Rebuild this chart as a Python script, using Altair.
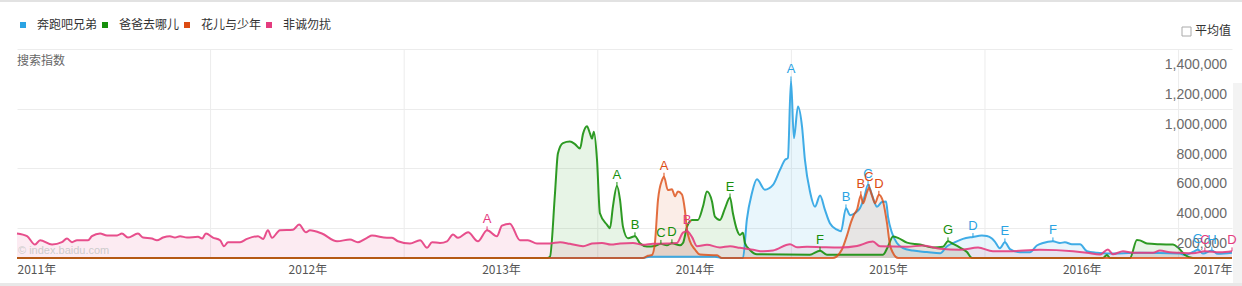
import altair as alt
import pandas as pd

SERIES = ["奔跑吧兄弟", "爸爸去哪儿", "花儿与少年", "非诚勿扰"]
COLORS = ["#2ba3e3", "#178f0c", "#dc4b12", "#e43c7f"]

# (decimal year, search index)
pink = [(2011.000,164000),(2011.052,146000),(2011.093,90000),(2011.119,119000),(2011.181,90000),(2011.232,106000),(2011.258,130000),(2011.284,106000),(2011.310,119000),(2011.367,119000),(2011.387,146000),(2011.429,164000),(2011.465,151000),(2011.517,151000),(2011.542,164000),(2011.573,137000),(2011.625,164000),(2011.651,137000),(2011.697,130000),(2011.723,119000),(2011.754,137000),(2011.790,146000),(2011.816,137000),(2011.842,146000),(2011.878,137000),(2011.935,142000),(2011.956,130000),(2011.976,164000),(2012.012,137000),(2012.049,119000),(2012.069,79000),(2012.090,106000),(2012.152,106000),(2012.188,128000),(2012.245,146000),(2012.271,128000),(2012.296,186000),(2012.317,135000),(2012.358,186000),(2012.426,190000),(2012.457,224000),(2012.493,172000),(2012.513,186000),(2012.575,164000),(2012.653,112000),(2012.720,124000),(2012.761,106000),(2012.808,135000),(2012.834,150000),(2012.911,135000),(2012.937,135000),(2012.968,112000),(2013.030,97000),(2013.082,119000),(2013.118,68000),(2013.144,106000),(2013.185,101000),(2013.221,112000),(2013.252,157000),(2013.278,135000),(2013.330,172000),(2013.381,112000),(2013.428,186000),(2013.479,146000),(2013.505,217000),(2013.546,230000),(2013.598,119000),(2013.639,119000),(2013.686,97000),(2013.753,97000),(2013.805,106000),(2013.856,95000),(2013.924,79000),(2013.970,97000),(2014.022,101000),(2014.068,90000),(2014.115,97000),(2014.182,101000),(2014.233,88000),(2014.285,95000),(2014.357,97000),(2014.409,101000),(2014.440,170000),(2014.461,179000),(2014.487,140000),(2014.512,79000),(2014.564,88000),(2014.631,71000),(2014.683,79000),(2014.734,68000),(2014.802,55000),(2014.853,45000),(2014.905,50000),(2014.993,92000),(2015.029,72000),(2015.081,75000),(2015.163,72000),(2015.251,70000),(2015.339,80000),(2015.421,110000),(2015.458,78000),(2015.597,75000),(2015.680,84000),(2015.768,62000),(2015.871,55000),(2015.964,70000),(2016.041,45000),(2016.114,45000),(2016.284,55000),(2016.455,45000),(2016.527,35000),(2016.594,23000),(2016.635,57000),(2016.661,25000),(2016.713,45000),(2016.764,35000),(2016.868,35000),(2016.904,50000),(2016.955,38000),(2017.007,35000),(2017.074,32000),(2017.136,45000),(2017.214,38000),(2017.276,45000)]

green = [(2011.000,0),(2013.740,0),(2013.753,8000),(2013.779,435000),(2013.794,700000),(2013.820,770000),(2013.856,780000),(2013.882,763000),(2013.908,733000),(2013.924,833000),(2013.944,883000),(2013.960,833000),(2013.970,800000),(2013.980,845000),(2013.996,658000),(2014.011,300000),(2014.047,224000),(2014.063,200000),(2014.078,343000),(2014.099,483000),(2014.115,390000),(2014.130,210000),(2014.156,132000),(2014.192,146000),(2014.218,99000),(2014.254,77000),(2014.295,81000),(2014.326,95000),(2014.357,85000),(2014.383,99000),(2014.425,85000),(2014.440,100000),(2014.461,210000),(2014.487,255000),(2014.517,255000),(2014.543,343000),(2014.564,445000),(2014.590,378000),(2014.605,277000),(2014.631,255000),(2014.657,333000),(2014.683,406000),(2014.698,300000),(2014.719,188000),(2014.734,154000),(2014.750,169000),(2014.760,99000),(2014.786,54000),(2014.822,25000),(2015.096,22000),(2015.148,49000),(2015.184,22000),(2015.473,22000),(2015.499,77000),(2015.525,144000),(2015.551,135000),(2015.597,103000),(2015.664,90000),(2015.731,70000),(2015.783,75000),(2015.809,112000),(2015.835,95000),(2015.871,70000),(2015.907,40000),(2015.933,0),(2016.609,0),(2016.630,20000),(2016.646,0),(2016.749,0),(2016.785,120000),(2016.800,118000),(2016.837,97000),(2016.904,92000),(2016.971,90000),(2016.997,70000),(2017.033,20000),(2017.074,0),(2017.276,0)]

orange = [(2011.000,0),(2014.233,0),(2014.259,15000),(2014.280,20000),(2014.295,99000),(2014.311,390000),(2014.332,522000),(2014.342,545000),(2014.362,455000),(2014.383,460000),(2014.399,413000),(2014.414,445000),(2014.435,425000),(2014.450,320000),(2014.461,190000),(2014.476,112000),(2014.502,57000),(2014.528,23000),(2014.616,18000),(2014.641,0),(2015.215,0),(2015.261,57000),(2015.287,150000),(2015.308,240000),(2015.323,290000),(2015.339,324000),(2015.359,421000),(2015.370,366000),(2015.390,440000),(2015.401,470000),(2015.416,420000),(2015.432,366000),(2015.452,424000),(2015.473,380000),(2015.494,233000),(2015.509,90000),(2015.525,34000),(2015.551,0),(2017.276,0)]

blue = [(2011.000,0),(2014.233,0),(2014.270,8000),(2014.605,8000),(2014.641,0),(2014.750,0),(2014.770,257000),(2014.796,433000),(2014.822,527000),(2014.863,458000),(2014.905,490000),(2014.941,590000),(2014.967,657000),(2014.982,670000),(2014.998,1190000),(2015.013,803000),(2015.034,1015000),(2015.055,880000),(2015.070,657000),(2015.096,445000),(2015.122,344000),(2015.148,418000),(2015.173,324000),(2015.199,233000),(2015.235,190000),(2015.256,179000),(2015.282,333000),(2015.303,287000),(2015.328,300000),(2015.354,333000),(2015.375,400000),(2015.396,490000),(2015.416,424000),(2015.442,344000),(2015.468,375000),(2015.489,378000),(2015.499,277000),(2015.520,167000),(2015.545,100000),(2015.576,67000),(2015.628,50000),(2015.700,40000),(2015.768,31000),(2015.804,79000),(2015.845,106000),(2015.886,128000),(2015.938,141000),(2015.984,150000),(2016.010,147000),(2016.036,130000),(2016.051,110000),(2016.077,65000),(2016.103,105000),(2016.129,60000),(2016.181,39000),(2016.232,39000),(2016.268,84000),(2016.300,101000),(2016.351,112000),(2016.387,101000),(2016.413,105000),(2016.449,92000),(2016.491,92000),(2016.527,45000),(2016.578,35000),(2016.630,30000),(2016.800,35000),(2017.007,30000),(2017.033,20000),(2017.074,40000),(2017.100,55000),(2017.126,30000),(2017.172,50000),(2017.203,28000),(2017.276,35000)]

# event markers: (series, year, value, letter)
markers = [
    ("非诚勿扰", 2013.428, 186000, "A"), ("非诚勿扰", 2014.461, 179000, "B"),
    ("非诚勿扰", 2017.136, 45000, "C"), ("非诚勿扰", 2017.276, 45000, "D"),
    ("爸爸去哪儿", 2014.099, 483000, "A"), ("爸爸去哪儿", 2014.192, 146000, "B"),
    ("爸爸去哪儿", 2014.326, 95000, "C"), ("爸爸去哪儿", 2014.383, 99000, "D"),
    ("爸爸去哪儿", 2014.683, 406000, "E"), ("爸爸去哪儿", 2015.148, 49000, "F"),
    ("爸爸去哪儿", 2015.809, 112000, "G"),
    ("花儿与少年", 2014.342, 545000, "A"), ("花儿与少年", 2015.359, 421000, "B"),
    ("花儿与少年", 2015.401, 470000, "C"), ("花儿与少年", 2015.452, 424000, "D"),
    ("奔跑吧兄弟", 2014.998, 1190000, "A"), ("奔跑吧兄弟", 2015.282, 333000, "B"),
    ("奔跑吧兄弟", 2015.396, 490000, "C"), ("奔跑吧兄弟", 2015.938, 141000, "D"),
    ("奔跑吧兄弟", 2016.103, 105000, "E"), ("奔跑吧兄弟", 2016.351, 112000, "F"),
    ("奔跑吧兄弟", 2017.100, 55000, "G"), ("奔跑吧兄弟", 2017.172, 50000, "H"),
]

X_DOMAIN = [2011.0, 2017.276]
X_TICKS = [2011.0, 2012.5, 2013.5, 2014.5, 2015.5, 2016.5, 2017.276]
YEAR_LINES = [2012, 2013, 2014, 2015, 2016, 2017]
Y_TICKS = [200000, 400000, 600000, 800000, 1000000, 1200000, 1400000]

series_points = {"奔跑吧兄弟": blue, "爸爸去哪儿": green, "花儿与少年": orange, "非诚勿扰": pink}
color_of = dict(zip(SERIES, COLORS))
line_opacity = {"奔跑吧兄弟": 0.9, "爸爸去哪儿": 0.9, "花儿与少年": 0.8, "非诚勿扰": 0.9}

mk = pd.DataFrame(markers, columns=["series", "year", "v", "letter"])

X = alt.X("year:Q", scale=alt.Scale(domain=X_DOMAIN, nice=False, zero=False),
          axis=alt.Axis(values=X_TICKS, labelExpr="floor(datum.value) + '年'", labelFlush=True,
                        grid=False, domain=False, ticks=False, tickSize=0, labelPadding=6,
                        labelFont="Noto Sans CJK SC", labelFontSize=12, labelColor="#555",
                        labelOverlap=False, title=None))
Y = alt.Y("v:Q", stack=None, scale=alt.Scale(domain=[0, 1400000], nice=False),
          axis=alt.Axis(orient="right", values=Y_TICKS, grid=True, gridColor="#ececec",
                        domain=False, ticks=False, labels=False, title=None))

layers = []
layers.append(alt.Chart(pd.DataFrame({"year": YEAR_LINES})).mark_rule(color="#ececec", strokeWidth=1).encode(x=X))

one = pd.DataFrame({"t": ["搜索指数"]})
layers.append(alt.Chart(one).mark_rect(fill="#f3f3f3").encode(
    x=alt.value(1216), x2=alt.value(1225), y=alt.value(34), y2=alt.value(237)))

draw_order = ["奔跑吧兄弟", "爸爸去哪儿", "花儿与少年", "非诚勿扰"]
frames = {n: pd.DataFrame(series_points[n], columns=["year", "v"]) for n in draw_order}
for n in draw_order:
    layers.append(alt.Chart(frames[n]).mark_area(interpolate="monotone", fillOpacity=0.1,
                                                 color=color_of[n]).encode(x=X, y=Y))
for n in draw_order:
    layers.append(alt.Chart(frames[n]).mark_line(interpolate="monotone", strokeWidth=2,
                                                 strokeOpacity=line_opacity[n], color=color_of[n]).encode(x=X, y=Y))

# y tick labels (placed just below each gridline, inside the plot on the right)
layers.append(alt.Chart(pd.DataFrame({"v": Y_TICKS})).transform_calculate(
    lab="format(datum.v, ',d')").mark_text(align="right", baseline="middle", dy=16,
    font="Liberation Sans", fontSize=14, color="#6a6a6a").encode(
    x=alt.value(1210), y=Y, text="lab:N"))

for n in draw_order:
    m = mk[mk.series == n]
    base = alt.Chart(m).transform_calculate(top="datum.v + 26000")
    layers.append(base.mark_rule(strokeWidth=1, color=color_of[n]).encode(x=X, y=Y, y2="top:Q"))
    layers.append(base.mark_text(baseline="bottom", font="Liberation Sans", fontSize=13,
                                 color=color_of[n]).encode(x=X, y=alt.Y("top:Q"), text="letter:N"))

# legend (drawn from a hidden helper layer that carries the colour scale)
layers.append(alt.Chart(pd.DataFrame({"series": SERIES})).mark_square(size=36, opacity=1, filled=True).encode(
    x=alt.value(-1000), y=alt.value(-1000),
    color=alt.Color("series:N", scale=alt.Scale(domain=SERIES, range=COLORS),
                    legend=alt.Legend(orient="none", legendX=0, legendY=-30, direction="horizontal",
                                      columns=4, symbolType="square", symbolSize=36, symbolStrokeWidth=0,
                                      labelFont="Noto Sans CJK SC", labelFontSize=12, labelColor="#333",
                                      labelOffset=8, columnPadding=1, padding=0, title=None))))

layers.append(alt.Chart(one).mark_text(align="left", baseline="middle", font="Noto Sans CJK SC",
                                       fontSize=12, color="#666").encode(x=alt.value(0), y=alt.value(12), text="t:N"))
layers.append(alt.Chart(pd.DataFrame({"t": ["平均值"]})).mark_text(align="left", baseline="middle",
              font="Noto Sans CJK SC", fontSize=12, color="#333").encode(x=alt.value(1178), y=alt.value(-18), text="t:N"))
layers.append(alt.Chart(one).mark_rect(fill="white", stroke="#aaa", strokeWidth=1).encode(
    x=alt.value(1165), x2=alt.value(1174), y=alt.value(-22), y2=alt.value(-13)))
layers.append(alt.Chart(pd.DataFrame({"t": ["© index.baidu.com"]})).mark_text(align="left", baseline="middle",
              font="Liberation Sans", fontSize=11, color="#cccccc").encode(x=alt.value(1), y=alt.value(202), text="t:N"))
layers.append(alt.Chart(one).mark_rule(color="#e2e2e2", strokeWidth=2).encode(
    x=alt.value(-17), x2=alt.value(1225), y=alt.value(-48)))
layers.append(alt.Chart(one).mark_rule(color="#e8e8e8", strokeWidth=3).encode(
    x=alt.value(-17), x2=alt.value(1225), y=alt.value(235.5)))

chart = alt.layer(*layers).properties(
    width=1215, height=209,
    autosize=alt.AutoSizeParams(type="none"),
    padding={"left": 17, "top": 49, "right": 10, "bottom": 28},
).configure_view(stroke=None)

chart.save("out.html", embed_options={"renderer": "svg", "actions": False})
